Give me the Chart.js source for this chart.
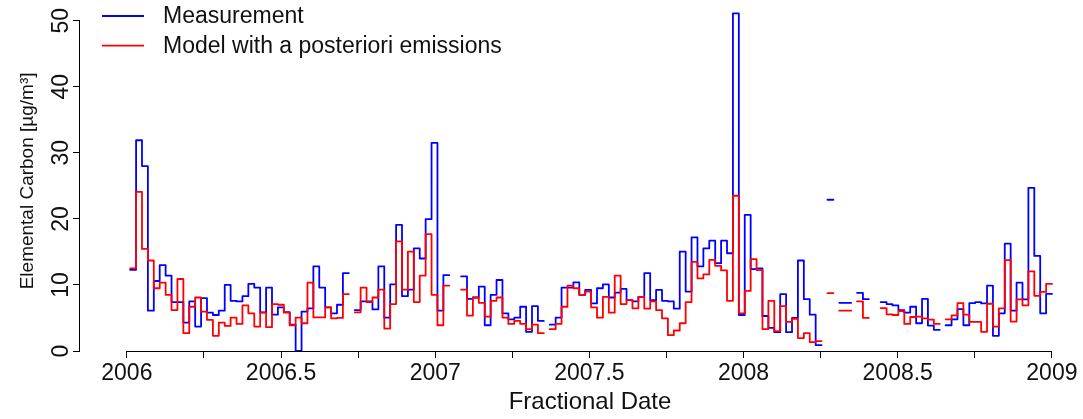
<!DOCTYPE html>
<html><head><meta charset="utf-8">
<script src="https://cdn.jsdelivr.net/npm/chart.js@4.4.1/dist/chart.umd.min.js"></script>
<style>html,body{margin:0;padding:0;background:#fff;}body{width:1083px;height:419px;overflow:hidden;}#c{display:block;}</style>
</head><body>
<canvas id="c" width="1100" height="419"></canvas>
<script>
// ---- data (weekly samples, fractional years) ----
const seriesNames = ['Measurement', 'Model with a posteriori emissions'];
const firstWeek = 2006.0107;          // date of first weekly sample
const weekLength = 7 / 365.25;        // sampling interval (years)
const measurement = [
  12.3, 31.9, 28.0, 6.1, 10.6, 13.0, 11.4, 7.4, 7.4, 4.3,
  7.5, 3.7, 8.0, 5.8, 5.45, 6.1, 10.0, 7.6, 7.5, 8.3,
  10.15, 9.6, 5.85, 9.6, 5.5, 6.6, 5.9, 4.0, 0, 5.95,
  6.45, 12.8, 9.6, 6.6, 5.7, 7.0, 11.8, null, 6.2, 7.5,
  7.5, 6.3, 12.8, 5.05, 10.1, 19.1, 8.3, 9.3, 15.55, 14.0,
  19.95, 31.5, 6.1, 11.5, null, null, 11.3, 7.9, 8.1, 9.75,
  3.9, 8.5, 10.75, 5.7, 4.8, 5.05, 6.7, 2.9, 6.8, 4.55,
  null, 4.0, 5.05, 9.6, 9.6, 10.4, 8.5, 9.25, 7.2, 9.5,
  10.1, 8.1, 8.85, 9.4, 7.7, 7.5, 8.2, 11.8, 7.7, 9.25,
  7.6, 7.5, 6.4, 15.05, 9.0, 17.2, 12.8, 15.55, 16.7, 13.3,
  16.7, 14.8, 51.1, 5.45, 20.6, 12.4, 12.5, 5.3, 3.5, 2.85,
  8.6, 2.85, 5.0, 13.7, 7.85, 5.5, 0.9, null, 22.9, null,
  7.3, 7.3, null, 8.8, 7.85, null, null, 7.4, 7.1, 6.9,
  6.2, 5.8, 6.7, 4.2, 7.9, 3.85, 3.2, null, 3.9, 4.8,
  6.35, 3.9, 7.25, 7.4, 7.2, 9.9, 2.3, 5.7, 16.25, 6.1,
  10.35, 7.8, 24.7, 14.4, 5.7, 8.65
];
const model = [
  12.5, 24.1, 15.45, 13.7, 9.5, 10.35, 8.5, 6.2, 10.9, 2.7,
  6.7, 8.1, 5.96, 4.7, 2.3, 4.3, 3.8, 5.05, 4.1, 6.9,
  5.7, 3.7, 5.8, 3.6, 7.1, 7.0, 5.8, 3.9, 5.05, 4.2,
  10.35, 5.1, 5.1, 6.6, 4.95, 5.0, 8.6, null, 5.85, 9.6,
  7.4, 8.1, 9.3, 3.4, 7.1, 16.6, 9.3, 15.05, 7.4, 11.4,
  17.7, 8.5, 3.9, 9.9, null, null, 9.3, 5.35, 8.1, 7.3,
  5.2, 7.6, 8.1, 5.05, 4.1, 4.55, 4.1, 3.3, 4.0, 2.7,
  null, 3.3, 4.1, 6.7, 9.9, 9.5, 8.5, 9.0, 6.6, 5.05,
  8.2, 5.8, 11.4, 7.1, 7.7, 6.45, 8.2, 6.4, 7.5, 6.2,
  4.95, 2.4, 3.1, 4.2, 7.4, 13.5, 11.0, 11.6, 13.8, 12.9,
  12.2, 7.6, 23.5, 5.7, 9.1, 13.9, 12.25, 3.3, 7.6, 3.0,
  6.8, 4.4, 4.85, 1.95, 2.7, 1.35, 1.5, null, 8.75, null,
  6.1, 6.1, null, 7.5, 5.0, null, null, 6.5, 5.55, 5.45,
  6.05, 4.1, 5.15, 5.2, 4.95, 4.75, 4.1, null, 4.8, 5.4,
  7.25, 5.5, 4.4, 4.4, 2.9, 7.15, 3.7, 6.45, 13.75, 4.45,
  7.8, 6.9, 12.05, 8.35, 8.95, 10.15
];
const xTicks = [2006, 2006.25, 2006.5, 2006.75, 2007, 2007.25, 2007.5, 2007.75,
                2008, 2008.25, 2008.5, 2008.75, 2009];
const xLabelValues = [2006, 2006.5, 2007, 2007.5, 2008, 2008.5, 2009];
const yTicks = [0, 10, 20, 30, 40, 50];

// ---- build step data: each weekly value spans its own week ----
function stepData(vals) {
  const pts = [];
  for (let i = 0; i < vals.length; i++) {
    const v = vals[i];
    if (v === null) continue;
    const x = firstWeek + i * weekLength;
    pts.push({x: x, y: v});
    if (i === vals.length - 1 || vals[i + 1] === null) {
      pts.push({x: x + weekLength, y: v});
      pts.push({x: x + weekLength, y: null});
    }
  }
  return pts;
}

const FONT = "'Liberation Sans', Arial, Helvetica, sans-serif";
const TXT = '#111';

const axisLines = {
  id: 'axisLines',
  afterDraw(chart) {
    const {ctx, scales: {x, y}, chartArea} = chart;
    ctx.save();
    ctx.strokeStyle = '#000';
    ctx.lineWidth = 1;
    ctx.beginPath();
    const yb = chartArea.bottom + 0.5;
    ctx.moveTo(x.getPixelForValue(xTicks[0]), yb);
    ctx.lineTo(x.getPixelForValue(xTicks[xTicks.length - 1]), yb);
    const xl = chartArea.left - 0.5;
    ctx.moveTo(xl, y.getPixelForValue(yTicks[0]) + 0.5);
    ctx.lineTo(xl, y.getPixelForValue(yTicks[yTicks.length - 1]) - 0.5);
    ctx.stroke();
    ctx.restore();
  }
};

const legendPlugin = {
  id: 'rLegend',
  afterDraw(chart) {
    const ctx = chart.ctx;
    ctx.save();
    ctx.font = '23px ' + FONT;
    ctx.textBaseline = 'middle';
    ctx.textAlign = 'left';
    chart.data.datasets.forEach((ds, k) => {
      const yy = 16 + k * 29.7;
      ctx.strokeStyle = ds.borderColor;
      ctx.lineWidth = ds.borderWidth;
      ctx.beginPath();
      ctx.moveTo(102, yy);
      ctx.lineTo(144, yy);
      ctx.stroke();
      ctx.fillStyle = TXT;
      ctx.fillText(ds.label, 163, yy + 1);
    });
    ctx.restore();
  }
};

function noPad(s) { s.paddingTop = 0; s.paddingBottom = 0; s.paddingLeft = 0; s.paddingRight = 0; }

new Chart(document.getElementById('c'), {
  type: 'line',
  data: {
    datasets: [
      {label: seriesNames[0], data: stepData(measurement), borderColor: '#0000ff',
       borderWidth: 1.8, stepped: 'before', pointRadius: 0, fill: false, order: 1,
       spanGaps: false, borderCapStyle: 'round', borderJoinStyle: 'round'},
      {label: seriesNames[1], data: stepData(model), borderColor: '#ff0000',
       borderWidth: 1.8, stepped: 'before', pointRadius: 0, fill: false, order: 0,
       spanGaps: false, borderCapStyle: 'round', borderJoinStyle: 'round'}
    ]
  },
  options: {
    responsive: false,
    animation: false,
    devicePixelRatio: 1,
    layout: {padding: {left: 0, top: 10.8, right: 0, bottom: 0}},
    plugins: {legend: {display: false}, tooltip: {enabled: false}},
    scales: {
      x: {
        type: 'linear', min: 2005.848, max: 2009.156,
        afterBuildTicks: s => { s.ticks = xTicks.map(v => ({value: v})); },
        afterFit: s => { s.height = 68; noPad(s); },
        grid: {drawOnChartArea: false, drawTicks: true, tickLength: 7, color: '#000', lineWidth: 1},
        border: {display: false},
        ticks: {autoSkip: false, maxRotation: 0, minRotation: 0, padding: 2, color: TXT,
                font: {family: FONT, size: 23},
                callback: v => xLabelValues.includes(v) ? String(v) : ''},
        title: {display: true, text: 'Fractional Date', color: TXT,
                font: {family: FONT, size: 24}, padding: {top: 0, bottom: 2}}
      },
      y: {
        type: 'linear', min: 0, max: 51.5,
        afterBuildTicks: s => { s.ticks = yTicks.map(v => ({value: v})); },
        afterFit: s => { s.width = 80; noPad(s); },
        grid: {drawOnChartArea: false, drawTicks: true, tickLength: 7, color: '#000', lineWidth: 1},
        border: {display: false},
        ticks: {autoSkip: false, minRotation: 90, maxRotation: 90, padding: -1, crossAlign: 'center',
                color: TXT, font: {family: FONT, size: 23}},
        title: {display: true, text: 'Elemental Carbon [µg/m³]', color: TXT,
                font: {family: FONT, size: 19}, padding: {top: 16, bottom: 0}}
      }
    }
  },
  plugins: [axisLines, legendPlugin]
});
</script>
</body></html>
